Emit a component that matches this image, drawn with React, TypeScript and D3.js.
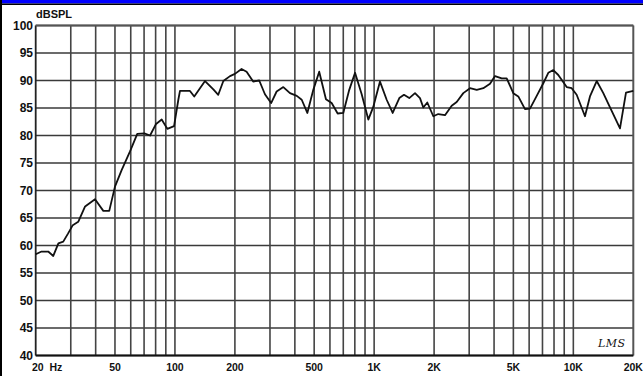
import React from "react";
import * as d3 from "d3";

const freqs = [20, 21.4, 23.1, 24.5, 26, 27.5, 29.1, 30.7, 32.7, 35.4, 39.7, 43.7, 46.8, 50, 54, 59.5, 64.7, 70.2, 75, 80.4, 85.8, 91.6, 99, 104, 106, 119, 125, 141.6, 155.9, 165, 175, 189, 200, 216, 229, 247, 265, 283, 304, 324, 350, 378, 409, 433, 462, 495, 530, 573, 612, 656, 700, 750, 802, 866, 935, 990, 1070, 1156, 1239, 1338, 1412, 1501, 1604, 1699, 1765, 1849, 1982, 2099, 2268, 2451, 2597, 2803, 3029, 3274, 3532, 3817, 4044, 4370, 4628, 4996, 5292, 5720, 6059, 6549, 7068, 7487, 7932, 8403, 9262, 9810, 10393, 11440, 12120, 13100, 14140, 15280, 17150, 18380, 20000];
const spl = [58.4, 58.9, 58.9, 58.1, 60.4, 60.7, 62.2, 63.7, 64.3, 67.1, 68.4, 66.3, 66.3, 70.7, 73.7, 77.1, 80.3, 80.4, 80.0, 82.1, 82.9, 81.2, 81.7, 86.5, 88.1, 88.1, 87.1, 89.9, 88.4, 87.4, 89.9, 90.8, 91.2, 92.1, 91.6, 89.8, 90.0, 87.5, 85.9, 88.0, 88.8, 87.7, 87.2, 86.5, 84.1, 88.3, 91.6, 86.6, 85.9, 84.0, 84.1, 88.3, 91.4, 87.5, 82.9, 85.2, 89.8, 86.5, 84.1, 86.8, 87.4, 86.8, 87.7, 86.8, 85.1, 86.0, 83.5, 83.9, 83.7, 85.4, 86.1, 87.7, 88.6, 88.3, 88.6, 89.4, 90.8, 90.4, 90.4, 87.7, 87.1, 84.8, 84.9, 87.2, 89.5, 91.4, 91.9, 91.0, 88.8, 88.6, 87.4, 83.5, 87.1, 89.9, 87.7, 85.1, 81.3, 87.8, 88.1];

const yTicks = [40, 45, 50, 55, 60, 65, 70, 75, 80, 85, 90, 95, 100];
const gridFreqs = [30, 40, 50, 60, 70, 80, 90, 100, 200, 300, 400, 500, 600, 700, 800, 900, 1000, 2000, 3000, 4000, 5000, 6000, 7000, 8000, 9000, 10000];
const xLabelFreqs = [50, 100, 200, 500, 1000, 2000, 5000, 10000, 20000];
const xLabelTexts = ["50", "100", "200", "500", "1K", "2K", "5K", "10K", "20K"];

export default function App() {
  const W = 643, H = 376;
  const x = d3.scaleLog().domain([20, 20000]).range([35.7, 633.3]);
  const y = d3.scaleLinear().domain([40, 100]).range([355.5, 25.5]);
  const line = d3.line<number>().x((_, i) => x(freqs[i])).y((d) => y(d));
  const font = "'Liberation Sans', Arial, sans-serif";
  return (
    <svg width={W} height={H} style={{ position: "absolute", left: 0, top: 0, background: "#fff" }}>
      <rect x={0} y={0} width={W} height={H} fill="#fff" />
      <rect x={0} y={0} width={W} height={3.5} fill="#0000ff" />
      <rect x={0} y={3.5} width={W} height={1.5} fill="#000" />
      <rect x={0} y={0} width={2} height={H} fill="#000" />
      {yTicks.map((t) => (
        <line key={"h" + t} x1={x(20)} x2={x(20000)} y1={y(t)} y2={y(t)} stroke="#3a3a3a" strokeWidth={1.6} />
      ))}
      {gridFreqs.map((f) => (
        <line key={"v" + f} x1={x(f)} x2={x(f)} y1={y(100)} y2={y(40)} stroke="#444" strokeWidth={1.6} />
      ))}
      <line x1={x(20)} x2={x(20)} y1={y(100)} y2={y(40)} stroke="#222" strokeWidth={1.8} />
      <line x1={x(20000)} x2={x(20000)} y1={y(100)} y2={y(40)} stroke="#555" strokeWidth={2} />
      <line x1={x(20)} x2={x(20000)} y1={y(100)} y2={y(100)} stroke="#555" strokeWidth={1.8} />
      <line x1={x(20)} x2={x(20000)} y1={y(40)} y2={y(40)} stroke="#111" strokeWidth={2.2} />
      <path d={line(spl) || ""} fill="none" stroke="#111" strokeWidth={1.8} strokeLinejoin="round" />
      {yTicks.map((t) => (
        <text key={"yl" + t} x={33} y={y(t)} dy="0.36em" textAnchor="end" fontFamily={font} fontWeight="bold" fontSize={12} fill="#111">{t}</text>
      ))}
      <text x={36} y={18} fontFamily={font} fontWeight="bold" fontSize={11} fill="#111">dBSPL</text>
      <text x={32} y={371} fontFamily={font} fontWeight="bold" fontSize={10.5} fill="#111" style={{ whiteSpace: "pre" }} xmlSpace="preserve">20  Hz</text>
      {xLabelFreqs.map((f, i) => (
        <text key={"xl" + f} x={x(f)} y={371} textAnchor="middle" fontFamily={font} fontWeight="bold" fontSize={10.5} fill="#111">{xLabelTexts[i]}</text>
      ))}
      <text x={598} y={347} fontFamily="'DejaVu Serif', serif" fontStyle="italic" fontSize={11} fill="#111" letterSpacing={0.5}>LMS</text>
    </svg>
  );
}
